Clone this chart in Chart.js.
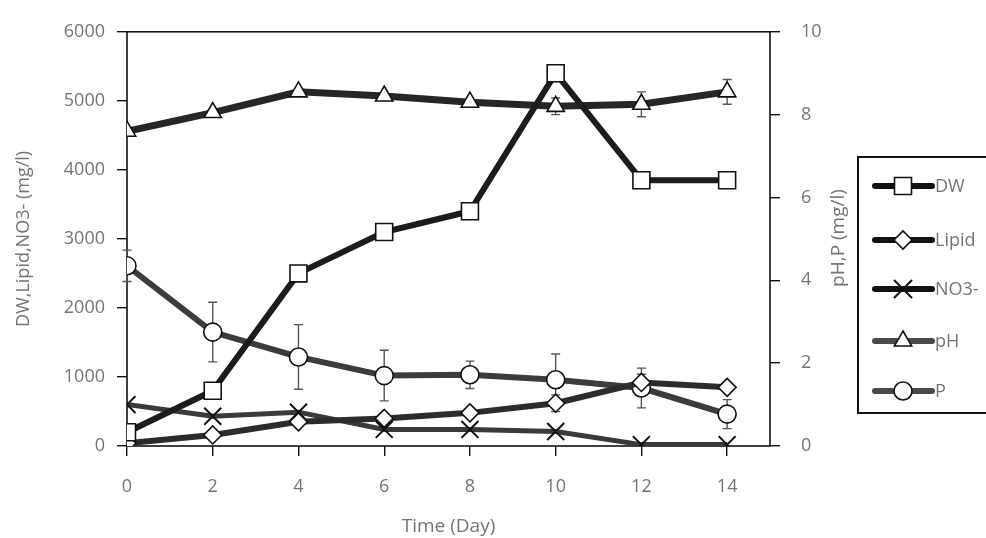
<!DOCTYPE html>
<html>
<head>
<meta charset="utf-8">
<script src="https://cdn.jsdelivr.net/npm/chart.js@4.4.1/dist/chart.umd.min.js"></script>
<style>
  html, body { margin: 0; padding: 0; background: #fff; }
  #wrap { width: 986px; height: 538px; }
</style>
</head>
<body>
<div id="wrap"><canvas id="c" width="986" height="538"></canvas></div>
<script>
// Culture time course (days)
const days = [0, 2, 4, 6, 8, 10, 12, 14];

// Left axis series (mg/l)
const dw    = [200, 800, 2500, 3100, 3400, 5400, 3850, 3850];
const lipid = [40, 160, 350, 400, 480, 620, 920, 850];
const no3   = [600, 430, 490, 240, 240, 210, 20, 20];

// Right axis series
const ph = [7.6, 8.05, 8.55, 8.45, 8.3, 8.2, 8.25, 8.55];
const p  = [4.35, 2.75, 2.15, 1.7, 1.72, 1.6, 1.4, 0.77];

// Standard deviations
const lipidErr = [0, 0, 0, 0, 0, 120, 120, 0];
const phErr    = [0, 0, 0, 0, 0, 0.2, 0.3, 0.3];
const pErr     = [0.38, 0.72, 0.78, 0.61, 0.33, 0.62, 0.48, 0.35];

// Axis ticks
const leftTicks  = [0, 1000, 2000, 3000, 4000, 5000, 6000];
const rightTicks = [0, 2, 4, 6, 8, 10];
const dayTicks   = [0, 2, 4, 6, 8, 10, 12, 14];

const FONT = "'Open Sans', 'DejaVu Sans', sans-serif";
const TEXT = '#747474';

function pts(ys) { return days.map((d, i) => ({ x: d, y: ys[i] })); }

function series(label, ys, axis, color, style, radius, extra) {
  return Object.assign({
    label: label,
    data: pts(ys),
    yAxisID: axis,
    borderColor: color,
    borderWidth: 6,
    pointStyle: style,
    pointRadius: radius,
    pointHoverRadius: radius,
    pointBackgroundColor: '#fff',
    pointBorderColor: '#111',
    pointBorderWidth: 1.6,
    tension: 0,
    fill: false
  }, extra || {});
}

const datasets = [
  series('DW', dw, 'yL', '#1c1c1c', 'rect', 12),
  series('Lipid', lipid, 'yL', '#2c2c2c', 'rectRot', 9),
  series('NO3-', no3, 'yL', '#3a3a3a', 'crossRot', 12, { borderWidth: 5, pointBorderWidth: 2 }),
  series('pH', ph, 'yR', '#262626', 'triangle', 10, { borderWidth: 7 }),
  series('P', p, 'yR', '#3c3c3c', 'circle', 9)
];
datasets[1].errors = lipidErr;
datasets[3].errors = phErr;
datasets[4].errors = pErr;

// Plot frame around the chart area
const framePlugin = {
  id: 'frame',
  beforeDatasetsDraw(chart) {
    const { ctx, chartArea: a } = chart;
    ctx.save();
    ctx.strokeStyle = '#111';
    ctx.lineWidth = 1.6;
    ctx.strokeRect(a.left, a.top, a.right - a.left, a.bottom - a.top);
    ctx.restore();
  }
};

// Vertical error bars with caps, drawn through the dataset's own y scale
const errorBarPlugin = {
  id: 'errorBars',
  beforeDatasetsDraw(chart) {
    const { ctx } = chart;
    const xs = chart.scales.x;
    ctx.save();
    ctx.strokeStyle = '#555';
    ctx.lineWidth = 1.4;
    chart.data.datasets.forEach(ds => {
      if (!ds.errors) return;
      const ys = chart.scales[ds.yAxisID];
      ds.data.forEach((pt, i) => {
        const e = ds.errors[i];
        if (!e) return;
        const x = xs.getPixelForValue(pt.x);
        const y1 = ys.getPixelForValue(pt.y + e);
        const y2 = ys.getPixelForValue(pt.y - e);
        ctx.beginPath();
        ctx.moveTo(x, y1); ctx.lineTo(x, y2);
        ctx.moveTo(x - 4.5, y1); ctx.lineTo(x + 4.5, y1);
        ctx.moveTo(x - 4.5, y2); ctx.lineTo(x + 4.5, y2);
        ctx.stroke();
      });
    });
    ctx.restore();
  }
};

// Boxed legend with line-and-marker swatches, plus the right axis title
const sideLegendPlugin = {
  id: 'sideLegend',
  afterDraw(chart) {
    const { ctx } = chart;
    ctx.save();
    // right axis title, reading bottom to top
    ctx.fillStyle = TEXT;
    ctx.font = '19px ' + FONT;
    ctx.textAlign = 'center';
    ctx.textBaseline = 'middle';
    ctx.translate(839, 238);
    ctx.rotate(-Math.PI / 2);
    ctx.fillText('pH,P (mg/l)', 0, 0);
    ctx.restore();

    ctx.save();
    ctx.strokeStyle = '#111';
    ctx.lineWidth = 2;
    ctx.strokeRect(858, 157, 140, 256);
    const rowY = [186, 240, 289, 341, 391];
    const lineCol = ['#111', '#111', '#111', '#4a4a4a', '#4a4a4a'];
    chart.data.datasets.forEach((ds, i) => {
      const y = rowY[i];
      ctx.strokeStyle = lineCol[i];
      ctx.lineWidth = 6;
      ctx.lineCap = 'round';
      ctx.beginPath();
      ctx.moveTo(875, y); ctx.lineTo(932, y);
      ctx.stroke();
      ctx.fillStyle = '#fff';
      ctx.strokeStyle = '#111';
      ctx.lineWidth = ds.pointBorderWidth;
      Chart.helpers.drawPoint(ctx, {
        pointStyle: ds.pointStyle,
        radius: ds.pointRadius,
        rotation: 0,
        borderWidth: ds.pointBorderWidth
      }, 903, y);
      ctx.fillStyle = TEXT;
      ctx.font = '18px ' + FONT;
      ctx.textAlign = 'left';
      ctx.textBaseline = 'middle';
      ctx.fillText(ds.label, 935, y + 1);
    });
    ctx.restore();
  }
};

function fixedTicks(values) {
  return function (scale) {
    scale.ticks = values.map(v => ({ value: v }));
  };
}

const plain = v => String(v);

new Chart(document.getElementById('c'), {
  type: 'line',
  data: { datasets: datasets },
  plugins: [framePlugin, errorBarPlugin, sideLegendPlugin],
  options: {
    responsive: false,
    animation: false,
    devicePixelRatio: 1,
    layout: { padding: { top: 27, right: 136, bottom: 0, left: 0 } },
    plugins: { legend: { display: false }, tooltip: { enabled: false } },
    scales: {
      x: {
        type: 'linear',
        min: 0,
        max: 15,
        afterBuildTicks: fixedTicks(dayTicks),
        afterFit(s) { s.height = 92; },
        border: { display: false },
        grid: { drawOnChartArea: false, tickLength: 10, color: '#111', lineWidth: 1.4 },
        ticks: { color: TEXT, font: { family: FONT, size: 18 }, padding: 20, maxRotation: 0, callback: plain },
        title: { display: true, text: 'Time (Day)', color: TEXT, font: { family: FONT, size: 19 }, padding: { top: 0, bottom: 0 } }
      },
      yL: {
        type: 'linear',
        position: 'left',
        min: 0,
        max: 6000,
        afterBuildTicks: fixedTicks(leftTicks),
        afterFit(s) { s.width = 127; },
        border: { display: false },
        grid: { drawOnChartArea: false, tickLength: 10, color: '#111', lineWidth: 1.4 },
        ticks: { color: TEXT, font: { family: FONT, size: 18 }, padding: 12, callback: plain },
        title: { display: true, text: 'DW,Lipid,NO3- (mg/l)', color: TEXT, font: { family: FONT, size: 18 }, padding: { top: 13, bottom: 0 } }
      },
      yR: {
        type: 'linear',
        position: 'right',
        min: 0,
        max: 10,
        afterBuildTicks: fixedTicks(rightTicks),
        afterFit(s) { s.width = 80; },
        border: { display: false },
        grid: { drawOnChartArea: false, tickLength: 10, color: '#111', lineWidth: 1.4 },
        ticks: { color: TEXT, font: { family: FONT, size: 18 }, padding: 21, callback: plain }
      }
    }
  }
});
</script>
</body>
</html>
